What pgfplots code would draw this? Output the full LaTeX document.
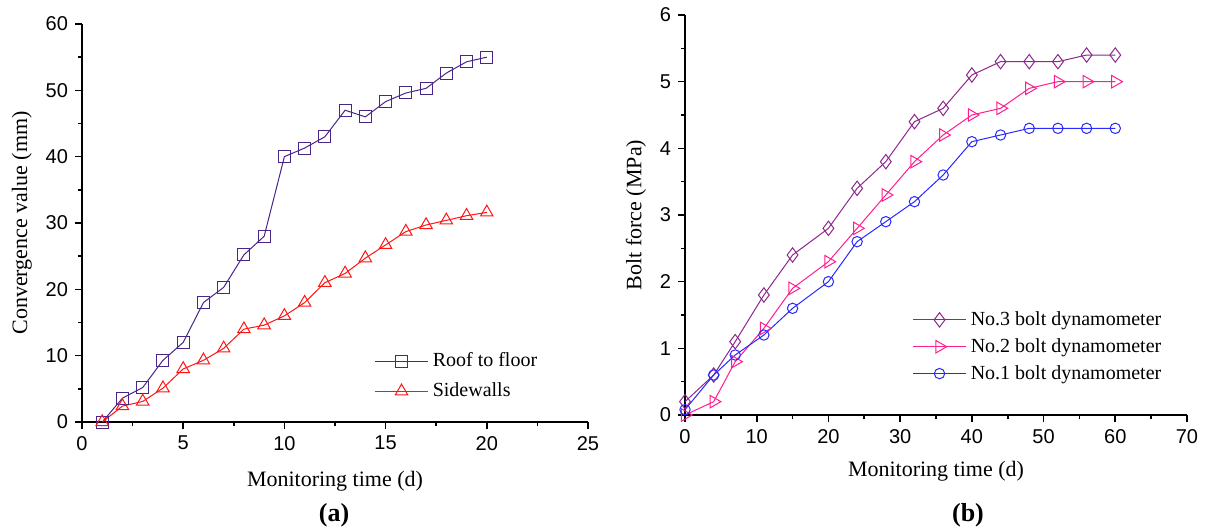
\documentclass[border=0pt]{standalone}
\usepackage{fontspec}
\setmainfont{Liberation Serif}
\newfontfamily\arialfont{Liberation Sans}
\usepackage{pgfplots}
\pgfplotsset{compat=1.18}

\definecolor{roofc}{RGB}{72,38,135}
\definecolor{sidec}{RGB}{255,20,20}
\definecolor{nothree}{RGB}{140,40,140}
\definecolor{notwo}{RGB}{255,30,140}
\definecolor{noone}{RGB}{40,40,255}

\pgfplotsset{
  panel/.style={
    scale only axis,
    axis x line*=bottom, axis y line*=left,
    axis line style={line width=1pt,-},
    tick align=outside,
    major tick length=3.5pt, minor tick length=2pt,
    tick style={line width=0.8pt,black},
    tick label style={font=\arialfont\fontsize{10}{12}\selectfont},
    /pgf/number format/assume math mode=true,
    label style={font=\fontsize{11}{13}\selectfont},
    legend style={draw=none, fill=none, font=\fontsize{10}{12}\selectfont,
      row sep=1pt},
    legend cell align=left,
    legend image code/.code={%
      \draw[mark repeat=2,mark phase=2]
        plot coordinates {(0cm,0cm) (0.47cm,0cm) (0.94cm,0cm)};},
    clip=false,
    every axis plot/.append style={line width=0.5pt,
      mark options={solid, fill=white, line width=0.5pt}},
  }
}

\begin{document}
\begin{tikzpicture}
\useasboundingbox (0,0) rectangle (605.5pt,263.5pt);

% (a) convergence
\begin{axis}[panel,
  at={(41pt,52.5pt)}, anchor=south west,
  width=253pt, height=199pt,
  xmin=0, xmax=25, ymin=0, ymax=60,
  xtick={0,5,...,25}, ytick={0,10,...,60},
  minor x tick num=1, minor y tick num=1,
  xlabel={Monitoring time (d)},
  ylabel={Convergence value (mm)},
  xlabel style={yshift=-3.5pt},
  legend style={at={(0.565,0.195)}, anchor=north west, row sep=2.5pt},
]
\addplot[color=roofc, mark=square, mark size=3pt] coordinates {
  (1,0) (2,3.6) (3,5.2) (4,9.3) (5,12) (6,18) (7,20.3) (8,25.2) (9,28)
  (10,40) (11,41.3) (12,43) (13,47) (14,46) (15,48.3) (16,49.6)
  (17,50.3) (18,52.6) (19,54.3) (20,55)
};
\addlegendentry{Roof to floor}
\addplot[color=sidec, mark=triangle, mark size=3.6pt] coordinates {
  (1,0) (2,2.4) (3,3.1) (4,5.1) (5,8) (6,9.3) (7,11.1) (8,14) (9,14.6)
  (10,16) (11,18) (12,21) (13,22.4) (14,24.7) (15,26.7) (16,28.7)
  (17,29.7) (18,30.4) (19,31.1) (20,31.6)
};
\addlegendentry{Sidewalls}
\end{axis}

% (b) bolt force
\begin{axis}[panel,
  at={(342.5pt,56pt)}, anchor=south west,
  width=251pt, height=200pt,
  xmin=0, xmax=70, ymin=0, ymax=6,
  xtick={0,10,...,70}, ytick={0,1,...,6},
  minor x tick num=1, minor y tick num=1,
  xlabel={Monitoring time (d)},
  ylabel={Bolt force (MPa)},
  xlabel style={yshift=-2pt},
  legend style={at={(0.44,0.28)}, anchor=north west},
]
\addplot[color=nothree, mark=diamond, mark size=3.6pt] coordinates {
  (0,0.2) (4,0.6) (7,1.1) (11,1.8) (15,2.4) (20,2.8) (24,3.4) (28,3.8)
  (32,4.4) (36,4.6) (40,5.1) (44,5.3) (48,5.3) (52,5.3) (56,5.4) (60,5.4)
};
\addlegendentry{No.3 bolt dynamometer}
\addplot[color=notwo, mark=triangle, mark options={rotate=-90}, mark size=3.6pt] coordinates {
  (0,0) (4,0.2) (7,0.8) (11,1.3) (15,1.9) (20,2.3) (24,2.8) (28,3.3)
  (32,3.8) (36,4.2) (40,4.5) (44,4.6) (48,4.9) (52,5) (56,5) (60,5)
};
\addlegendentry{No.2 bolt dynamometer}
\addplot[color=noone, mark=o, mark size=2.6pt] coordinates {
  (0,0.08) (4,0.6) (7,0.9) (11,1.2) (15,1.6) (20,2) (24,2.6) (28,2.9)
  (32,3.2) (36,3.6) (40,4.1) (44,4.2) (48,4.3) (52,4.3) (56,4.3) (60,4.3)
};
\addlegendentry{No.1 bolt dynamometer}
\end{axis}

\node[font=\bfseries\fontsize{13}{15}\selectfont] at (167pt,6pt) {(a)};
\node[font=\bfseries\fontsize{13}{15}\selectfont] at (484pt,6pt) {(b)};
\end{tikzpicture}
\end{document}
